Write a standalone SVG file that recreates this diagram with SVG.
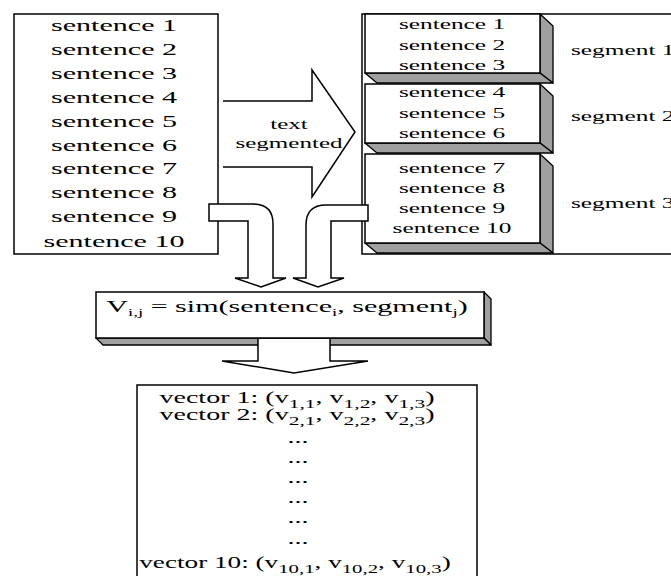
<svg xmlns="http://www.w3.org/2000/svg" width="671" height="576" viewBox="0 0 671 576">
<style>
.t{font-family:"Liberation Serif","Times New Roman",serif;fill:#000}
.s16{font-size:16px}
.s15{font-size:15px}
.s17{font-size:17px}
.box{fill:#fff;stroke:#000;stroke-width:1.5}
.sh{fill:#a0a0a0;stroke:#000;stroke-width:1.3;stroke-linejoin:round}
.arr{fill:#fff;stroke:#000;stroke-width:1.5;stroke-linejoin:miter}
.m{text-anchor:middle}
</style>
<rect width="671" height="576" fill="#fff"/>

<g id="left-box">
<rect class="box" x="14" y="14" width="204" height="240"/>
<g class="t s16 m">
<text transform="translate(114,31) scale(1.88,1)">sentence 1</text>
<text transform="translate(114,55) scale(1.88,1)">sentence 2</text>
<text transform="translate(114,79) scale(1.88,1)">sentence 3</text>
<text transform="translate(114,103) scale(1.88,1)">sentence 4</text>
<text transform="translate(114,127) scale(1.88,1)">sentence 5</text>
<text transform="translate(114,151) scale(1.88,1)">sentence 6</text>
<text transform="translate(114,174) scale(1.88,1)">sentence 7</text>
<text transform="translate(114,198) scale(1.88,1)">sentence 8</text>
<text transform="translate(114,222) scale(1.88,1)">sentence 9</text>
<text transform="translate(114,247) scale(1.88,1)">sentence 10</text>
</g>
</g>

<g id="segments">
<rect class="box" x="362" y="14" width="330" height="240"/>
<g id="segment1">
<polygon class="sh" points="540,14 553,26 553,83 540,73"/>
<polygon class="sh" points="365,73 540,73 553,83 377,83"/>
<rect class="box" x="365" y="14" width="175" height="59"/>
</g>
<g id="segment2">
<polygon class="sh" points="540,84 553,96 553,153 540,143"/>
<polygon class="sh" points="365,143 540,143 553,153 377,153"/>
<rect class="box" x="365" y="84" width="175" height="59"/>
</g>
<g id="segment3">
<polygon class="sh" points="540,154 553,166 553,253 540,243"/>
<polygon class="sh" points="365,243 540,243 553,253 377,253"/>
<rect class="box" x="365" y="154" width="175" height="89"/>
</g>
<g class="t s15 m">
<text transform="translate(452,29) scale(1.69,1)">sentence 1</text>
<text transform="translate(452,50) scale(1.69,1)">sentence 2</text>
<text transform="translate(452,70) scale(1.69,1)">sentence 3</text>
<text transform="translate(452,97) scale(1.69,1)">sentence 4</text>
<text transform="translate(452,118) scale(1.69,1)">sentence 5</text>
<text transform="translate(452,138) scale(1.69,1)">sentence 6</text>
<text transform="translate(452,173) scale(1.69,1)">sentence 7</text>
<text transform="translate(452,193) scale(1.69,1)">sentence 8</text>
<text transform="translate(452,213) scale(1.69,1)">sentence 9</text>
<text transform="translate(452,233) scale(1.69,1)">sentence 10</text>
</g>
<g class="t s15">
<text transform="translate(571,55) scale(1.69,1)">segment 1</text>
<text transform="translate(571,121) scale(1.69,1)">segment 2</text>
<text transform="translate(571,208) scale(1.69,1)">segment 3</text>
</g>
</g>

<g id="connectors">
<g id="text-segmented-arrow">
<polyline class="arr" points="223,101 312,101 312,70 355,132 312,197 312,167 223,167"/>
<g class="t s15 m">
<text transform="translate(289,129) scale(1.67,1)">text</text>
<text transform="translate(289,148) scale(1.67,1)">segmented</text>
</g>
</g>
<path id="bent-left" class="arr" d="M209,204 H253 Q273,204 273,224 V278 H286 L261,287 L235,278 H248 V221 H209 Z"/>
<path id="bent-right" class="arr" d="M368,205 H326 Q306,205 306,225 V278 H293 L318,287 L344,278 H331 V221 H368 Z"/>
</g>

<g id="sim-box">
<polygon class="sh" points="484,292 491,299 491,345 484,338"/>
<polygon class="sh" points="96,338 484,338 491,345 103,345"/>
<rect class="box" x="96" y="292" width="388" height="46"/>
<text class="t s16 m" transform="translate(287,312) scale(1.88,1)">V<tspan font-size="10" dy="4">i,j</tspan><tspan dy="-4"> = sim(sentence</tspan><tspan font-size="10" dy="4">i</tspan><tspan dy="-4">, segment</tspan><tspan font-size="10" dy="4">j</tspan><tspan dy="-4">)</tspan></text>
</g>

<g id="down-arrow">
<polyline class="arr" points="258,339 258,361 222,361 294,373 368,361 330,361 330,339"/>
<rect x="259" y="339.5" width="70" height="6" fill="#fff"/>
</g>

<g id="vector-box">
<rect class="box" x="137" y="385" width="340" height="205"/>
<g class="t s17 m">
<text transform="translate(297,403) scale(1.65,1)">vector 1: (v<tspan font-size="13" dy="5">1,1</tspan><tspan dy="-5">, v</tspan><tspan font-size="13" dy="5">1,2</tspan><tspan dy="-5">, v</tspan><tspan font-size="13" dy="5">1,3</tspan><tspan dy="-5">)</tspan></text>
<text transform="translate(297,420) scale(1.65,1)">vector 2: (v<tspan font-size="13" dy="5">2,1</tspan><tspan dy="-5">, v</tspan><tspan font-size="13" dy="5">2,2</tspan><tspan dy="-5">, v</tspan><tspan font-size="13" dy="5">2,3</tspan><tspan dy="-5">)</tspan></text>
<text transform="translate(298,443) scale(1.65,1)">...</text>
<text transform="translate(298,463) scale(1.65,1)">...</text>
<text transform="translate(298,483) scale(1.65,1)">...</text>
<text transform="translate(298,503) scale(1.65,1)">...</text>
<text transform="translate(298,523) scale(1.65,1)">...</text>
<text transform="translate(298,544) scale(1.65,1)">...</text>
<text transform="translate(295,568) scale(1.6,1)">vector 10: (v<tspan font-size="13" dy="5">10,1</tspan><tspan dy="-5">, v</tspan><tspan font-size="13" dy="5">10,2</tspan><tspan dy="-5">, v</tspan><tspan font-size="13" dy="5">10,3</tspan><tspan dy="-5">)</tspan></text>
</g>
</g>
</svg>
